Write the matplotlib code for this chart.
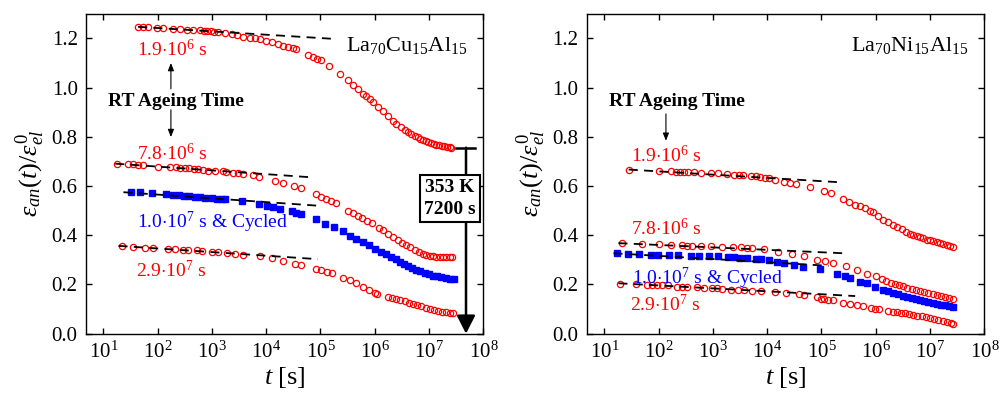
import matplotlib
matplotlib.use("Agg")
import matplotlib.pyplot as plt
import numpy as np

plt.rcParams['font.family'] = ['Liberation Serif', 'DejaVu Serif']
plt.rcParams['mathtext.fontset'] = 'custom'
plt.rcParams['mathtext.rm'] = 'Liberation Serif'
plt.rcParams['mathtext.it'] = 'Liberation Serif:italic'
plt.rcParams['mathtext.bf'] = 'Liberation Serif:bold'

# anelastic strain recovery, x given as log10(t / s)
# La70Cu15Al15
cu_19_lgt = [1.644, 1.736, 1.828, 1.982, 2.092, 2.288, 2.411, 2.534, 2.656, 2.779, 2.853, 2.914, 2.975, 3.037, 3.117,
             3.239, 3.362, 3.466, 3.577, 3.699, 3.791, 3.883, 3.994, 4.098, 4.221, 4.313, 4.405, 4.485, 4.546, 4.773,
             4.865, 4.939, 5.018, 5.160, 5.368, 5.509, 5.601, 5.693, 5.785, 5.847, 5.908, 5.969, 6.061, 6.153, 6.245,
             6.337, 6.399, 6.491, 6.552, 6.613, 6.675, 6.736, 6.798, 6.840, 6.890, 6.939, 6.988, 7.037, 7.086, 7.135,
             7.184, 7.233, 7.282, 7.331, 7.380, 7.411]
cu_19_y = [1.247, 1.246, 1.245, 1.243, 1.241, 1.239, 1.238, 1.236, 1.235, 1.234, 1.231, 1.231, 1.230, 1.228, 1.226,
           1.223, 1.219, 1.212, 1.207, 1.202, 1.200, 1.196, 1.189, 1.185, 1.178, 1.171, 1.166, 1.159, 1.155, 1.132,
           1.125, 1.118, 1.111, 1.087, 1.057, 1.030, 1.011, 0.995, 0.974, 0.965, 0.954, 0.942, 0.921, 0.904, 0.883,
           0.863, 0.852, 0.840, 0.829, 0.819, 0.811, 0.804, 0.798, 0.792, 0.788, 0.783, 0.779, 0.774, 0.770, 0.768,
           0.765, 0.762, 0.761, 0.758, 0.757, 0.755]

cu_78_lgt = [1.258, 1.460, 1.552, 1.644, 1.736, 2.012, 2.227, 2.337, 2.411, 2.503, 2.583, 2.669, 2.748, 2.840, 2.933,
             3.055, 3.209, 3.258, 3.393, 3.485, 3.577, 3.761, 3.871, 4.160, 4.301, 4.509, 4.632, 4.926, 5.018, 5.110,
             5.202, 5.294, 5.509, 5.601, 5.693, 5.773, 5.859, 5.957, 6.080, 6.153, 6.245, 6.337, 6.429, 6.509, 6.583,
             6.656, 6.736, 6.816, 6.890, 6.951, 7.012, 7.074, 7.135, 7.196, 7.258, 7.319, 7.380, 7.429]
cu_78_y = [0.690, 0.689, 0.688, 0.686, 0.686, 0.679, 0.678, 0.677, 0.675, 0.674, 0.673, 0.671, 0.670, 0.666, 0.663,
           0.660, 0.660, 0.658, 0.655, 0.652, 0.648, 0.645, 0.636, 0.622, 0.614, 0.601, 0.591, 0.567, 0.557, 0.546,
           0.539, 0.530, 0.500, 0.489, 0.480, 0.469, 0.459, 0.448, 0.428, 0.421, 0.405, 0.391, 0.380, 0.370, 0.360,
           0.351, 0.342, 0.333, 0.323, 0.318, 0.315, 0.314, 0.313, 0.311, 0.311, 0.311, 0.310, 0.310]

cu_cyc_lgt = [1.503, 1.675, 1.890, 2.153, 2.288, 2.399, 2.491, 2.583, 2.687, 2.779, 2.871, 2.994, 3.086, 3.178, 3.239,
              3.546, 3.871, 4.006, 4.117, 4.252, 4.466, 4.546, 4.632, 4.914, 5.080, 5.245, 5.417, 5.540, 5.663, 5.785,
              5.896, 6.000, 6.123, 6.215, 6.307, 6.387, 6.460, 6.534, 6.613, 6.693, 6.767, 6.840, 6.920, 7.000, 7.074,
              7.147, 7.227, 7.307, 7.380, 7.454]
cu_cyc_y = [0.577, 0.575, 0.571, 0.567, 0.564, 0.562, 0.561, 0.560, 0.557, 0.556, 0.553, 0.550, 0.548, 0.546, 0.546,
            0.539, 0.527, 0.519, 0.514, 0.508, 0.499, 0.492, 0.486, 0.465, 0.444, 0.435, 0.417, 0.397, 0.385, 0.374,
            0.360, 0.346, 0.333, 0.323, 0.311, 0.302, 0.292, 0.283, 0.274, 0.268, 0.260, 0.253, 0.247, 0.242, 0.236,
            0.234, 0.230, 0.227, 0.224, 0.223]

cu_29_lgt = [1.337, 1.552, 1.767, 1.908, 2.196, 2.319, 2.472, 2.564, 2.718, 2.810, 2.994, 3.117, 3.270, 3.423, 3.577,
             3.883, 4.098, 4.301, 4.528, 4.632, 4.926, 5.018, 5.123, 5.221, 5.417, 5.540, 5.663, 5.785, 5.896, 6.000,
             6.043, 6.245, 6.325, 6.399, 6.472, 6.552, 6.632, 6.706, 6.779, 6.859, 6.939, 7.012, 7.086, 7.166, 7.245,
             7.319, 7.393, 7.442]
cu_29_y = [0.355, 0.352, 0.349, 0.348, 0.346, 0.345, 0.342, 0.342, 0.340, 0.338, 0.334, 0.333, 0.326, 0.323, 0.319,
           0.315, 0.306, 0.295, 0.285, 0.281, 0.261, 0.258, 0.251, 0.245, 0.227, 0.217, 0.208, 0.190, 0.179, 0.167,
           0.163, 0.149, 0.145, 0.141, 0.136, 0.132, 0.126, 0.122, 0.117, 0.113, 0.106, 0.102, 0.098, 0.094, 0.090,
           0.087, 0.084, 0.083]

# La70Ni15Al15
ni_19_lgt = [1.454, 2.006, 2.233, 2.313, 2.393, 2.466, 2.540, 2.650, 2.773, 2.969, 3.098, 3.264, 3.387, 3.479, 3.558,
             3.693, 3.785, 3.865, 3.951, 4.031, 4.135, 4.313, 4.423, 4.528, 4.791, 5.055, 5.172, 5.393, 5.515, 5.620,
             5.712, 5.804, 5.896, 5.957, 6.049, 6.141, 6.233, 6.325, 6.399, 6.479, 6.558, 6.632, 6.693, 6.755, 6.816,
             6.877, 6.939, 7.000, 7.061, 7.123, 7.184, 7.245, 7.307, 7.368, 7.417]
ni_19_y = [0.667, 0.663, 0.660, 0.659, 0.659, 0.657, 0.657, 0.656, 0.654, 0.653, 0.652, 0.648, 0.646, 0.646, 0.645,
           0.641, 0.639, 0.638, 0.634, 0.631, 0.626, 0.618, 0.612, 0.608, 0.595, 0.580, 0.572, 0.549, 0.535, 0.525,
           0.517, 0.509, 0.498, 0.493, 0.477, 0.463, 0.452, 0.443, 0.432, 0.424, 0.414, 0.407, 0.402, 0.396, 0.391,
           0.387, 0.382, 0.379, 0.375, 0.371, 0.367, 0.363, 0.360, 0.357, 0.354]

ni_78_lgt = [1.331, 1.699, 2.006, 2.221, 2.436, 2.515, 2.620, 2.785, 2.969, 3.172, 3.374, 3.509, 3.632, 3.724, 3.939,
             4.196, 4.454, 4.681, 4.926, 5.067, 5.221, 5.448, 5.650, 5.847, 6.006, 6.110, 6.190, 6.276, 6.356, 6.436,
             6.509, 6.583, 6.663, 6.742, 6.816, 6.890, 6.969, 7.049, 7.123, 7.196, 7.276, 7.356, 7.417]
ni_78_y = [0.367, 0.364, 0.363, 0.361, 0.360, 0.358, 0.358, 0.356, 0.356, 0.354, 0.353, 0.352, 0.350, 0.349, 0.344,
           0.333, 0.323, 0.314, 0.300, 0.296, 0.287, 0.276, 0.259, 0.244, 0.234, 0.221, 0.215, 0.208, 0.204, 0.198,
           0.193, 0.186, 0.181, 0.177, 0.173, 0.168, 0.164, 0.160, 0.156, 0.153, 0.149, 0.147, 0.143]

ni_cyc_lgt = [1.239, 1.436, 1.638, 1.865, 1.988, 2.190, 2.356, 2.589, 2.742, 2.926, 3.092, 3.276, 3.387, 3.497, 3.620,
              3.785, 3.877, 4.031, 4.172, 4.301, 4.497, 4.656, 4.975, 5.294, 5.435, 5.528, 5.712, 5.847, 5.988, 6.141,
              6.233, 6.325, 6.417, 6.509, 6.583, 6.663, 6.742, 6.816, 6.890, 6.969, 7.049, 7.123, 7.196, 7.276, 7.356,
              7.429]
ni_cyc_y = [0.326, 0.325, 0.323, 0.320, 0.320, 0.319, 0.319, 0.316, 0.316, 0.315, 0.314, 0.312, 0.311, 0.308, 0.308,
            0.303, 0.303, 0.300, 0.293, 0.287, 0.280, 0.273, 0.262, 0.243, 0.235, 0.227, 0.212, 0.205, 0.190, 0.178,
            0.172, 0.167, 0.160, 0.155, 0.151, 0.147, 0.141, 0.137, 0.133, 0.129, 0.125, 0.121, 0.118, 0.115, 0.113,
            0.110]

ni_29_lgt = [1.288, 1.577, 1.791, 1.883, 1.975, 2.067, 2.172, 2.331, 2.436, 2.528, 2.699, 2.834, 2.988, 3.080, 3.172,
             3.325, 3.460, 3.571, 3.724, 3.890, 4.153, 4.350, 4.577, 4.681, 4.926, 4.988, 5.055, 5.129, 5.221, 5.405,
             5.528, 5.650, 5.773, 5.908, 5.988, 6.055, 6.233, 6.313, 6.387, 6.460, 6.540, 6.620, 6.693, 6.767, 6.847,
             6.926, 7.000, 7.074, 7.153, 7.233, 7.307, 7.380, 7.420]
ni_29_y = [0.204, 0.201, 0.198, 0.197, 0.197, 0.196, 0.196, 0.191, 0.191, 0.190, 0.189, 0.187, 0.186, 0.185, 0.183,
           0.179, 0.178, 0.177, 0.175, 0.174, 0.170, 0.167, 0.162, 0.156, 0.148, 0.143, 0.140, 0.139, 0.137, 0.126,
           0.122, 0.115, 0.113, 0.106, 0.102, 0.099, 0.092, 0.089, 0.087, 0.085, 0.083, 0.080, 0.077, 0.074, 0.071,
           0.068, 0.065, 0.061, 0.057, 0.053, 0.049, 0.045, 0.041]

# short-time linear fits (log t), endpoints
cu_fit_lgt = [[1.64, 5.25], [1.22, 4.87], [1.37, 5.03], [1.28, 4.95]]
cu_fit_y = [[1.247, 1.198], [0.691, 0.635], [0.575, 0.519], [0.357, 0.303]]
ni_fit_lgt = [[1.45, 5.37], [1.26, 5.40], [1.17, 5.13], [1.26, 5.62]]
ni_fit_y = [[0.667, 0.615], [0.368, 0.327], [0.327, 0.276], [0.205, 0.153]]

ageing_labels = [r'1.9$\cdot$10$^6$ s', r'7.8$\cdot$10$^6$ s', r'1.0$\cdot$10$^7$ s & Cycled', r'2.9$\cdot$10$^7$ s']
label_colors = ['red', 'red', 'blue', 'red']
cu_label_pos = [(1.613, 1.130), (1.626, 0.707), (1.613, 0.428), (1.600, 0.231)]
ni_label_pos = [(1.491, 0.699), (1.491, 0.400), (1.509, 0.201), (1.479, 0.092)]


def draw_panel(ax, series, fit_lgt, fit_y, label_pos, alloy):
    for k, (lgt, y) in enumerate(series):
        t = 10 ** np.array(lgt)
        if k == 2:
            ax.plot(t, y, 's', ms=3.7, color='blue', mec='blue', ls='none')
        else:
            ax.plot(t, y, 'o', ms=4.5, mfc='none', mec='red', mew=0.9, ls='none')
    for fl, fy in zip(fit_lgt, fit_y):
        ax.plot(10 ** np.array(fl), fy, color='k', lw=1.3, dashes=(5, 3.5))
    for txt, c, (lx, ly) in zip(ageing_labels, label_colors, label_pos):
        ax.text(10 ** lx, ly, txt, color=c, fontsize=14, ha='left', va='baseline')
    ax.text(0.96, 0.885, alloy, transform=ax.transAxes, fontsize=16, ha='right', va='baseline')

    ax.set_xscale('log')
    ax.set_xlim(4.8, 1e8)
    ax.set_ylim(0, 1.3)
    ax.set_xticks(10.0 ** np.arange(1, 9))
    ax.xaxis.set_minor_locator(matplotlib.ticker.NullLocator())
    ax.set_yticks(np.arange(0, 1.21, 0.2))
    ax.yaxis.set_major_formatter(matplotlib.ticker.FormatStrFormatter('%.1f'))
    ax.tick_params(direction='in', top=True, right=True, length=4.5, width=1, labelsize=15, pad=6)
    for s in ax.spines.values():
        s.set_linewidth(1)
    ax.set_xlabel('$t$ [s]', fontsize=19, labelpad=1)
    ax.set_ylabel(r'$\varepsilon_{an}(t)/\varepsilon^0_{el}$', fontsize=19, labelpad=3)


fig = plt.figure(figsize=(10.06, 3.94), dpi=100)
ax1 = fig.add_axes([0.0855, 0.153, 0.395, 0.812])
ax2 = fig.add_axes([0.5835, 0.153, 0.395, 0.812])

draw_panel(ax1, [(cu_19_lgt, cu_19_y), (cu_78_lgt, cu_78_y), (cu_cyc_lgt, cu_cyc_y), (cu_29_lgt, cu_29_y)],
           cu_fit_lgt, cu_fit_y, cu_label_pos, r'La$_{70}$Cu$_{15}$Al$_{15}$')
draw_panel(ax2, [(ni_19_lgt, ni_19_y), (ni_78_lgt, ni_78_y), (ni_cyc_lgt, ni_cyc_y), (ni_29_lgt, ni_29_y)],
           ni_fit_lgt, ni_fit_y, ni_label_pos, r'La$_{70}$Ni$_{15}$Al$_{15}$')

small_arrow = dict(arrowstyle='-|>,head_length=0.45,head_width=0.18', mutation_scale=10,
                   lw=0.8, color='k', shrinkA=0, shrinkB=0)

# RT ageing time markers
ax1.text(10 ** 2.337, 0.927, 'RT Ageing Time', fontsize=14, fontweight='bold', ha='center', va='baseline')
ax1.annotate('', xy=(10 ** 2.245, 1.10), xytext=(10 ** 2.245, 0.995), arrowprops=small_arrow)
ax1.annotate('', xy=(10 ** 2.245, 0.799), xytext=(10 ** 2.245, 0.910), arrowprops=small_arrow)

ax2.text(10 ** 2.337, 0.927, 'RT Ageing Time', fontsize=14, fontweight='bold', ha='center', va='baseline')
ax2.annotate('', xy=(10 ** 2.135, 0.784), xytext=(10 ** 2.135, 0.893), arrowprops=small_arrow)

# annealing step 353 K / 7200 s
x_arr = 10 ** 7.68
ax1.annotate('', xy=(x_arr, 0.0), xytext=(x_arr, 0.756),
             arrowprops=dict(arrowstyle='-|>,head_length=0.55,head_width=0.28', mutation_scale=20,
                             lw=1.8, color='k', shrinkA=0, shrinkB=0), annotation_clip=False)
ax1.plot([10 ** 7.495, 10 ** 7.845], [0.756, 0.756], color='k', lw=1.8, clip_on=False)
ax1.text(10 ** 7.385, 0.55, '353 K\n7200 s', fontsize=14, fontweight='bold', ha='center', va='center',
         linespacing=1.35, zorder=5,
         bbox=dict(boxstyle='square,pad=0.2', fc='white', ec='k', lw=1.5))

fig.savefig('out.png', dpi=100)
